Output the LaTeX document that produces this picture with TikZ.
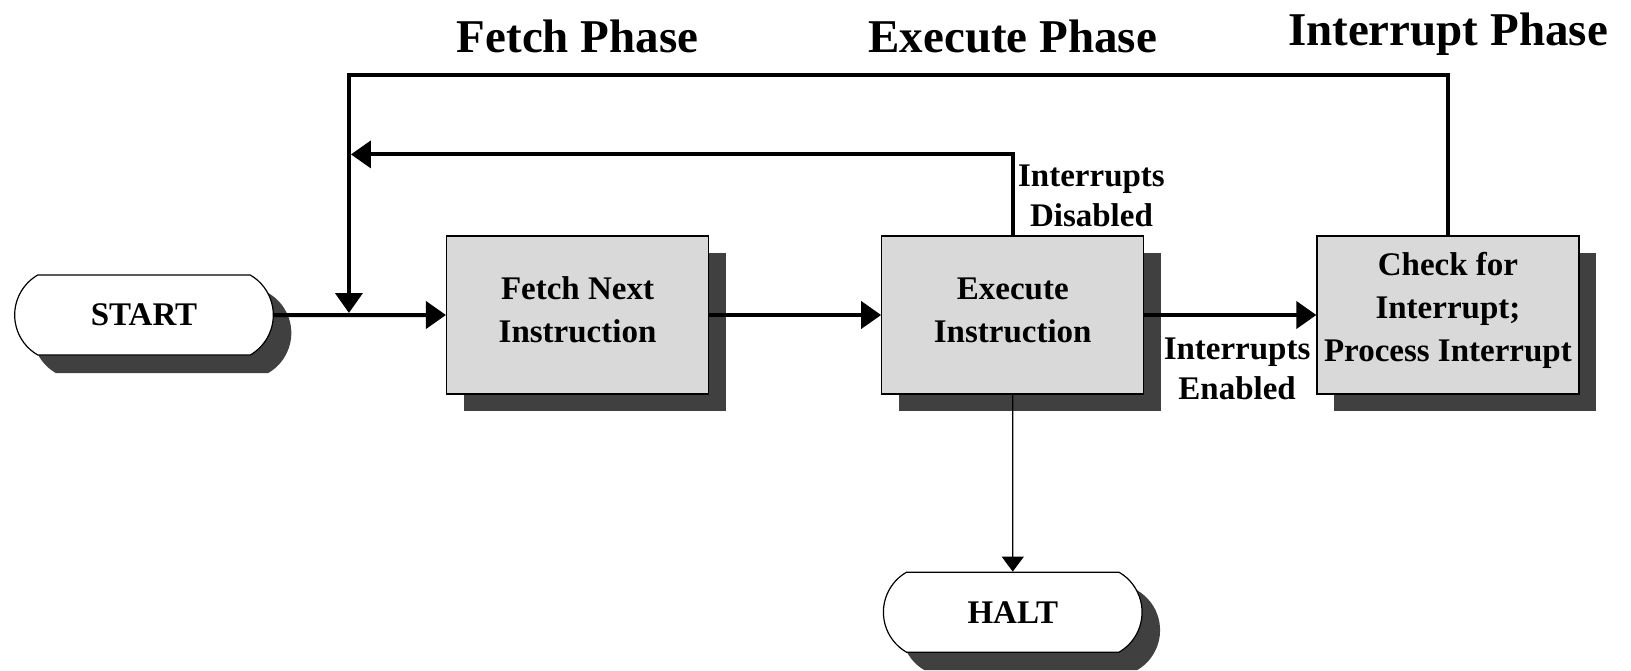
\documentclass[tikz,border=0pt]{standalone}
\usepackage{fontspec}
\setmainfont{Liberation Serif}
\usetikzlibrary{positioning,arrows.meta,shapes.misc,shadows}

\begin{document}
\begin{tikzpicture}[
    node distance=86pt,
    >={Triangle[length=10pt,width=13.5pt]},
    box/.style={rectangle,draw,line width=0.6pt,fill=gray!30,align=center,
        minimum width=131pt,minimum height=79pt,inner sep=2pt,text depth=5pt,
        font=\fontsize{16.5}{21.5}\selectfont\bfseries,
        drop shadow={shadow xshift=8.5pt,shadow yshift=-8.5pt,fill=black!75,opacity=1}},
    term/.style={rounded rectangle,rounded rectangle arc length=120,draw,line width=0.6pt,
        fill=white,minimum width=136pt,minimum height=40pt,
        font=\fontsize{16.5}{21.5}\selectfont\bfseries,
        drop shadow={shadow xshift=9pt,shadow yshift=-9pt,fill=black!75,opacity=1}},
    arrow/.style={->,line width=2pt},
    thinarrow/.style={-{Triangle[length=7.5pt,width=11pt]},line width=0.7pt},
    lbl/.style={align=center,inner sep=0pt,font=\fontsize{16.5}{20}\selectfont\bfseries},
    phase/.style={inner sep=0pt,text depth=0pt,font=\fontsize{23.5}{28}\selectfont\bfseries}
]
\useasboundingbox (-72pt,-177.5pt) rectangle (743.5pt,157.5pt);

% main nodes
\node[term] (start) {START};
\node[box,right=of start] (fetch) {Fetch Next\\Instruction};
\node[box,right=of fetch] (exec) {Execute\\Instruction};
\node[box,right=of exec,text depth=8pt] (check) {Check for\\Interrupt;\\Process Interrupt};
\node[term,below=88.5pt of exec] (halt) {HALT};
\coordinate[right=37.5pt of start.east] (merge);

% arrows
\draw[arrow] (start) -- (fetch);
\draw[arrow] (fetch) -- (exec);
\draw[arrow] (exec) -- (check);
\draw[thinarrow] (exec) -- (halt);
\draw[arrow,shorten >=1pt] (check.north) -- ++(0,80pt) -| (merge);
\draw[arrow,shorten >=1pt] (exec.north) -- ++(0,40.5pt) coordinate (dis) -- (dis -| merge);

% labels
\node[lbl,above right=4pt and 2.5pt of exec.north] (dislbl) {Interrupts\\Disabled};
\node[lbl,below right=11pt and 9.5pt of exec.east] (enlbl) {Interrupts\\Enabled};
\node[phase,above=91.5pt of fetch] (fetchph) {Fetch Phase};
\node[phase,above=91.5pt of exec] (execph) {Execute Phase};
\node[phase,above=95pt of check] (intph) {Interrupt Phase};

\end{tikzpicture}
\end{document}
